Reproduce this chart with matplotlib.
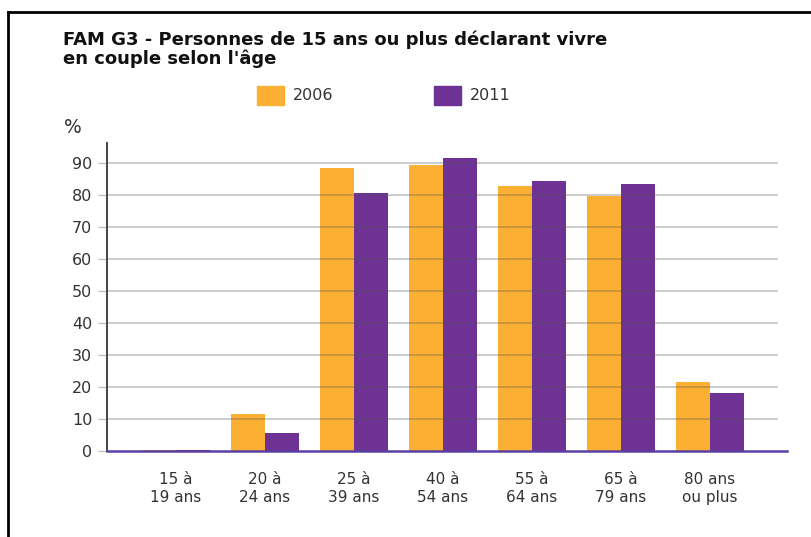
import matplotlib.pyplot as plt
from matplotlib.lines import Line2D
from matplotlib.patches import Patch
import numpy as np

# Data
categories = ['15 à\n19 ans', '20 à\n24 ans', '25 à\n39 ans', '40 à\n54 ans',
              '55 à\n64 ans', '65 à\n79 ans', '80 ans\nou plus']
values_2006 = [0.3, 11.6, 88.4, 89.4, 82.8, 79.7, 21.6]
values_2011 = [0.3, 5.6, 80.6, 91.6, 84.4, 83.4, 18.1]
yticks = [0, 10, 20, 30, 40, 50, 60, 70, 80, 90]

orange = '#fbb034'
purple = '#6e3194'
text_col = '#333333'

fig = plt.figure(figsize=(8.11, 5.37), dpi=100)
ax = fig.add_axes([0.1319, 0.1601, 0.8385, 0.5736])

x = np.arange(len(categories))
w = 0.38
ax.bar(x - w / 2, values_2006, width=w, color=orange, zorder=2)
ax.bar(x + w / 2, values_2011, width=w, color=purple, zorder=2)

ax.set_xlim(-0.775, 6.865)
ax.set_ylim(0, 96.3)
ax.set_yticks(yticks)
ax.set_xticks(x)
ax.set_xticklabels(categories, fontsize=11, color=text_col, linespacing=1.25)
ax.tick_params(axis='x', length=0, pad=15)
ax.tick_params(axis='y', length=6.5, color='#bbbbbb', labelsize=11.5,
               labelcolor=text_col, pad=4)

# gridlines sit on top of the bars, faintly
ax.hlines(yticks[1:], -0.775, 6.76, color='#555555', alpha=0.35, lw=1.2, zorder=3)

for s in ['top', 'right']:
    ax.spines[s].set_visible(False)
ax.spines['left'].set_color('#333333')
ax.spines['left'].set_linewidth(1.3)
ax.spines['bottom'].set_color('#5b3fa3')
ax.spines['bottom'].set_linewidth(1.8)
ax.spines['bottom'].set_zorder(4)

fig.text(0.0777, 0.909, 'FAM G3 - Personnes de 15 ans ou plus déclarant vivre\nen couple selon l\'âge',
         fontsize=13, fontweight='bold', color='#111111', va='center', ha='left',
         linespacing=1.05)
fig.text(0.079, 0.762, '%', fontsize=13.5, color=text_col, va='center')

handles = [Patch(color=orange), Patch(color=purple)]
fig.legend(handles, ['2006', '2011'], loc='center', bbox_to_anchor=(0.473, 0.823),
           ncol=2, frameon=False, fontsize=11.5, handlelength=1.7, handleheight=1.45,
           handletextpad=0.55, columnspacing=6.3, labelcolor=text_col)

# outer frame (top and left edges)
fig.add_artist(Line2D([0.01, 1.0], [0.978, 0.978], color='black', lw=2))
fig.add_artist(Line2D([0.01, 0.01], [0.0, 0.978], color='black', lw=2))

plt.savefig('out.png', dpi=100)
